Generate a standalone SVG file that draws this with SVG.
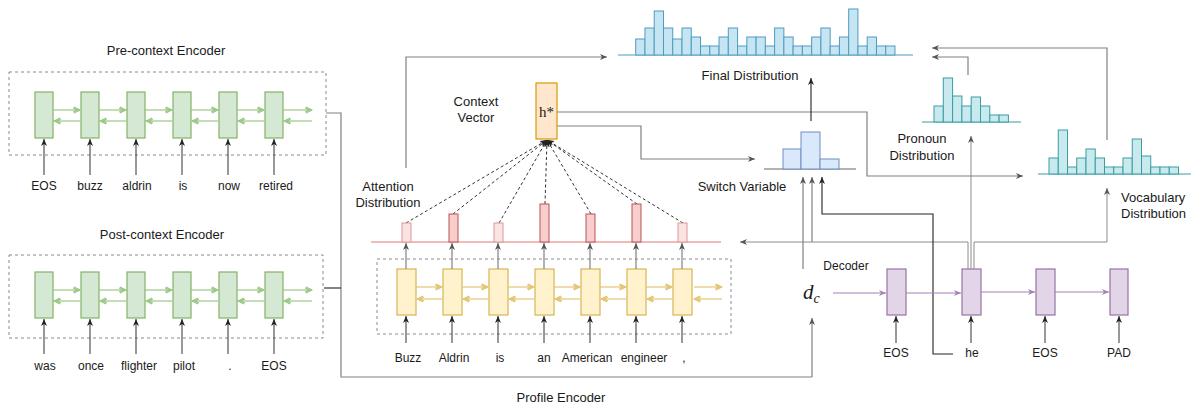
<svg xmlns="http://www.w3.org/2000/svg" width="1195" height="407" viewBox="0 0 1195 407">
<style>
text{font-family:"Liberation Sans",Arial,sans-serif;font-size:12px;fill:#1a1a1a}
.t{font-size:13px}
.dash{fill:none;stroke:#8a8a8a;stroke-width:1;stroke-dasharray:3,3}
.gc{fill:#d5e8d4;stroke:#82b366;stroke-width:1.2}
.yc{fill:#fff2cc;stroke:#d6b656;stroke-width:1.2}
.pc{fill:#e1d5e7;stroke:#9673a6;stroke-width:1.2}
.ga{stroke:#93c47d;stroke-width:1.1;fill:none;marker-end:url(#mg)}
.ya{stroke:#e0c068;stroke-width:1.1;fill:none;marker-end:url(#my)}
.pa{stroke:#a680b8;stroke-width:1.2;fill:none;marker-end:url(#mp)}
.ka{stroke:#333;stroke-width:1;fill:none;marker-end:url(#mk)}
.gr{stroke:#808080;stroke-width:1.2;fill:none}
.gra{stroke:#808080;stroke-width:1.2;fill:none;marker-end:url(#mgr)}
.thin{stroke:#808080;stroke-width:0.9;fill:none;marker-end:url(#mgr)}
.bl{stroke:#222;stroke-width:1.1;fill:none}
.bla{stroke:#222;stroke-width:1.1;fill:none;marker-end:url(#mk)}
.att{stroke:#333;stroke-width:1;stroke-dasharray:3,2.5;fill:none;marker-end:url(#mk)}
.fb{fill:#c6e5f3;stroke:#4f9cc0;stroke-width:1}
.tb{fill:#c8eaee;stroke:#3a9da3;stroke-width:1}
.sb{fill:#dae8fc;stroke:#6c8ebf;stroke-width:1}
.rb{fill:#f8cecc;stroke:#b85450;stroke-width:1}
.rl{fill:#fbe3e2;stroke:#d99a97;stroke-width:1}
</style>
<defs>
<marker id="mk" markerWidth="8" markerHeight="8" refX="7" refY="4" orient="auto" markerUnits="userSpaceOnUse"><path d="M0,1 L7,4 L0,7 L2,4 Z" fill="#222"/></marker>
<marker id="mgr" markerWidth="8" markerHeight="8" refX="7" refY="4" orient="auto" markerUnits="userSpaceOnUse"><path d="M0,1 L7,4 L0,7 L2,4 Z" fill="#555"/></marker>
<marker id="mg" markerWidth="8" markerHeight="8" refX="7" refY="4" orient="auto" markerUnits="userSpaceOnUse"><path d="M1,1 L7,4 L1,7 M0,2 L4,4 L0,6" fill="none" stroke="#93c47d" stroke-width="1.1"/></marker>
<marker id="my" markerWidth="8" markerHeight="8" refX="7" refY="4" orient="auto" markerUnits="userSpaceOnUse"><path d="M1,1 L7,4 L1,7 M0,2 L4,4 L0,6" fill="none" stroke="#e0c068" stroke-width="1.1"/></marker>
<marker id="mp" markerWidth="8" markerHeight="8" refX="7" refY="4" orient="auto" markerUnits="userSpaceOnUse"><path d="M0,1 L7,4 L0,7 L2,4 Z" fill="#a680b8"/></marker>
</defs>

<g id="connectors">
<path class="gr" d="M326,113 H341 V377 H812"/>
<path class="bl" d="M324,288 H341"/>
<path class="gra" d="M812,377 V318"/>
<path class="gra" d="M406,168 V57 H607"/>
<path class="gra" d="M557,112 H867 V176 H1023"/>
<path class="gra" d="M557,126 H641 V159 H755"/>
<path class="bla" d="M811,121 V78"/>
<path class="gra" d="M968,75 V57 H932"/>
<path class="gra" d="M1107,140 V48 H932"/>
<path class="thin" d="M968,269 V242 H740"/>
<path class="thin" d="M974,269 V242 H1107 V188"/>
<path class="thin" d="M971,269 V136"/>
<path class="gra" d="M812,242 V177"/>
<path class="gra" d="M803,269 V177"/>
<path class="bla" d="M953,354 H933 V214 H822 V177"/>
<path class="att" d="M406,223 L547,140"/>
<path class="att" d="M453,214 L547,140"/>
<path class="att" d="M499,223 L547,140"/>
<path class="att" d="M545,204 L547,140"/>
<path class="att" d="M591,214 L547,140"/>
<path class="att" d="M637,204 L547,140"/>
<path class="att" d="M683,223 L547,140"/>
</g>

<g id="pre-context-encoder">
<text class="t" x="166" y="55" text-anchor="middle">Pre-context Encoder</text>
<rect class="dash" x="9" y="72" width="317" height="83"/>
<rect class="gc" x="35" y="92" width="18" height="46"/>
<rect class="gc" x="81" y="92" width="18" height="46"/>
<rect class="gc" x="127" y="92" width="18" height="46"/>
<rect class="gc" x="173" y="92" width="18" height="46"/>
<rect class="gc" x="219" y="92" width="18" height="46"/>
<rect class="gc" x="265" y="92" width="18" height="46"/>
<path class="ga" d="M53,110 H80"/><path class="ga" d="M99,110 H126"/><path class="ga" d="M145,110 H172"/><path class="ga" d="M191,110 H218"/><path class="ga" d="M237,110 H264"/><path class="ga" d="M283,110 H312"/>
<path class="ga" d="M80,121 H54"/><path class="ga" d="M126,121 H100"/><path class="ga" d="M172,121 H146"/><path class="ga" d="M218,121 H192"/><path class="ga" d="M264,121 H238"/><path class="ga" d="M312,121 H284"/>
<path class="ka" d="M44,175 V139"/><path class="ka" d="M90,175 V139"/><path class="ka" d="M136,175 V139"/><path class="ka" d="M182,175 V139"/><path class="ka" d="M228,175 V139"/><path class="ka" d="M274,175 V139"/>
<text x="44" y="190" text-anchor="middle">EOS</text>
<text x="90" y="190" text-anchor="middle">buzz</text>
<text x="137" y="190" text-anchor="middle">aldrin</text>
<text x="183" y="190" text-anchor="middle">is</text>
<text x="229" y="190" text-anchor="middle">now</text>
<text x="276" y="190" text-anchor="middle">retired</text>
</g>

<g id="post-context-encoder">
<text class="t" x="162" y="239" text-anchor="middle">Post-context Encoder</text>
<rect class="dash" x="9" y="255" width="314" height="83"/>
<rect class="gc" x="35" y="272" width="18" height="46"/>
<rect class="gc" x="81" y="272" width="18" height="46"/>
<rect class="gc" x="127" y="272" width="18" height="46"/>
<rect class="gc" x="173" y="272" width="18" height="46"/>
<rect class="gc" x="219" y="272" width="18" height="46"/>
<rect class="gc" x="265" y="272" width="18" height="46"/>
<path class="ga" d="M53,290 H80"/><path class="ga" d="M99,290 H126"/><path class="ga" d="M145,290 H172"/><path class="ga" d="M191,290 H218"/><path class="ga" d="M237,290 H264"/><path class="ga" d="M283,290 H312"/>
<path class="ga" d="M80,301 H54"/><path class="ga" d="M126,301 H100"/><path class="ga" d="M172,301 H146"/><path class="ga" d="M218,301 H192"/><path class="ga" d="M264,301 H238"/><path class="ga" d="M312,301 H284"/>
<path class="ka" d="M44,354 V319"/><path class="ka" d="M90,354 V319"/><path class="ka" d="M136,354 V319"/><path class="ka" d="M182,354 V319"/><path class="ka" d="M228,354 V319"/><path class="ka" d="M274,354 V319"/>
<text x="45" y="370" text-anchor="middle">was</text>
<text x="91" y="370" text-anchor="middle">once</text>
<text x="139" y="370" text-anchor="middle">flighter</text>
<text x="184" y="370" text-anchor="middle">pilot</text>
<text x="230" y="370" text-anchor="middle">.</text>
<text x="274" y="370" text-anchor="middle">EOS</text>
</g>

<g id="profile-encoder">
<rect class="dash" x="377" y="259" width="354" height="75"/>
<rect class="yc" x="397" y="269" width="19" height="46"/>
<rect class="yc" x="443" y="269" width="19" height="46"/>
<rect class="yc" x="489" y="269" width="19" height="46"/>
<rect class="yc" x="535" y="269" width="19" height="46"/>
<rect class="yc" x="581" y="269" width="19" height="46"/>
<rect class="yc" x="627" y="269" width="19" height="46"/>
<rect class="yc" x="673" y="269" width="19" height="46"/>
<path class="ya" d="M416,287 H442"/><path class="ya" d="M462,287 H488"/><path class="ya" d="M508,287 H534"/><path class="ya" d="M554,287 H580"/><path class="ya" d="M600,287 H626"/><path class="ya" d="M646,287 H672"/><path class="ya" d="M694,287 H722"/>
<path class="ya" d="M442,299 H417"/><path class="ya" d="M488,299 H463"/><path class="ya" d="M534,299 H509"/><path class="ya" d="M580,299 H555"/><path class="ya" d="M626,299 H601"/><path class="ya" d="M672,299 H647"/><path class="ya" d="M722,299 H694"/>
<path class="ka" d="M406,343 V316"/><path class="ka" d="M452,343 V316"/><path class="ka" d="M498,343 V316"/><path class="ka" d="M544,343 V316"/><path class="ka" d="M590,343 V316"/><path class="ka" d="M636,343 V316"/><path class="ka" d="M682,343 V316"/>
<path class="gra" d="M406,269 V243"/><path class="gra" d="M452,269 V243"/><path class="gra" d="M498,269 V243"/><path class="gra" d="M544,269 V243"/><path class="gra" d="M590,269 V243"/><path class="gra" d="M636,269 V243"/><path class="gra" d="M682,269 V243"/>
<text x="408" y="362" text-anchor="middle">Buzz</text>
<text x="454" y="362" text-anchor="middle">Aldrin</text>
<text x="500" y="362" text-anchor="middle">is</text>
<text x="544" y="362" text-anchor="middle">an</text>
<text x="587" y="362" text-anchor="middle">American</text>
<text x="644" y="362" text-anchor="middle">engineer</text>
<text x="684" y="362" text-anchor="middle">,</text>
<text class="t" x="561" y="402" text-anchor="middle">Profile Encoder</text>
</g>

<g id="attention-distribution">
<line x1="371" y1="242" x2="721" y2="242" stroke="#e07a78" stroke-width="1.2"/>
<rect class="rl" x="402" y="223" width="9" height="19"/>
<rect class="rb" x="449" y="214" width="9" height="28"/>
<rect class="rl" x="494" y="223" width="9" height="19"/>
<rect class="rb" x="540" y="204" width="9" height="38"/>
<rect class="rb" x="586" y="214" width="9" height="28"/>
<rect class="rb" x="632" y="204" width="9" height="38"/>
<rect class="rl" x="678" y="223" width="9" height="19"/>
<text class="t" x="388" y="191" text-anchor="middle">Attention</text>
<text class="t" x="388" y="207" text-anchor="middle">Distribution</text>
</g>

<g id="context-vector">
<rect x="536" y="83" width="21" height="56" fill="#ffe6cc" stroke="#d79b00" stroke-width="1.2"/>
<text x="546.5" y="117" text-anchor="middle" style="font-family:'Liberation Serif',serif;font-size:15px">h*</text>
<text class="t" x="476" y="106" text-anchor="middle">Context</text>
<text class="t" x="476" y="122" text-anchor="middle">Vector</text>
</g>

<g id="final-distribution">
<line x1="618" y1="55" x2="913" y2="55" stroke="#4f9cc0" stroke-width="1.2"/>
<rect class="fb" x="635.7" y="39" width="9.26" height="16"/>
<rect class="fb" x="644.96" y="28" width="9.26" height="27"/>
<rect class="fb" x="654.22" y="11" width="9.26" height="44"/>
<rect class="fb" x="663.48" y="28" width="9.26" height="27"/>
<rect class="fb" x="672.74" y="39" width="9.26" height="16"/>
<rect class="fb" x="682" y="28" width="9.26" height="27"/>
<rect class="fb" x="691.26" y="37" width="9.26" height="18"/>
<rect class="fb" x="700.52" y="46" width="9.26" height="9"/>
<rect class="fb" x="709.78" y="46" width="9.26" height="9"/>
<rect class="fb" x="719.04" y="37" width="9.26" height="18"/>
<rect class="fb" x="728.3" y="28" width="9.26" height="27"/>
<rect class="fb" x="737.56" y="46" width="9.26" height="9"/>
<rect class="fb" x="746.82" y="37" width="9.26" height="18"/>
<rect class="fb" x="756.08" y="37" width="9.26" height="18"/>
<rect class="fb" x="765.34" y="46" width="9.26" height="9"/>
<rect class="fb" x="774.6" y="28" width="9.26" height="27"/>
<rect class="fb" x="783.86" y="37" width="9.26" height="18"/>
<rect class="fb" x="793.12" y="46" width="9.26" height="9"/>
<rect class="fb" x="802.38" y="46" width="9.26" height="9"/>
<rect class="fb" x="811.64" y="37" width="9.26" height="18"/>
<rect class="fb" x="820.9" y="28" width="9.26" height="27"/>
<rect class="fb" x="830.16" y="46" width="9.26" height="9"/>
<rect class="fb" x="839.42" y="37" width="9.26" height="18"/>
<rect class="fb" x="848.68" y="9" width="9.26" height="46"/>
<rect class="fb" x="857.94" y="46" width="9.26" height="9"/>
<rect class="fb" x="867.2" y="37" width="9.26" height="18"/>
<rect class="fb" x="876.46" y="46" width="9.26" height="9"/>
<rect class="fb" x="885.72" y="46" width="9.26" height="9"/>
<text class="t" x="750" y="80" text-anchor="middle">Final Distribution</text>
</g>

<g id="switch-variable">
<line x1="764" y1="169" x2="856" y2="169" stroke="#666" stroke-width="1"/>
<rect class="sb" x="783" y="149" width="18" height="20"/>
<rect class="sb" x="801" y="132" width="19" height="37"/>
<rect class="sb" x="820" y="159" width="19" height="10"/>
<text class="t" x="742" y="191" text-anchor="middle">Switch Variable</text>
</g>

<g id="pronoun-distribution">
<line x1="922" y1="122" x2="1021" y2="122" stroke="#3a9da3" stroke-width="1.2"/>
<rect class="tb" x="934" y="106" width="9.3" height="16"/>
<rect class="tb" x="943.3" y="78" width="9.3" height="44"/>
<rect class="tb" x="952.6" y="96" width="9.3" height="26"/>
<rect class="tb" x="961.9" y="106" width="9.3" height="16"/>
<rect class="tb" x="971.2" y="97" width="9.3" height="25"/>
<rect class="tb" x="980.5" y="106" width="9.3" height="16"/>
<rect class="tb" x="989.8" y="115" width="9.3" height="7"/>
<rect class="tb" x="999.1" y="115" width="9.3" height="7"/>
<text class="t" x="922" y="143" text-anchor="middle">Pronoun</text>
<text class="t" x="922" y="160" text-anchor="middle">Distribution</text>
</g>

<g id="vocabulary-distribution">
<line x1="1038" y1="174" x2="1191" y2="174" stroke="#3a9da3" stroke-width="1.2"/>
<rect class="tb" x="1049" y="158" width="9.25" height="16"/>
<rect class="tb" x="1058.25" y="130" width="9.25" height="44"/>
<rect class="tb" x="1067.5" y="167" width="9.25" height="7"/>
<rect class="tb" x="1076.75" y="158" width="9.25" height="16"/>
<rect class="tb" x="1086" y="149" width="9.25" height="25"/>
<rect class="tb" x="1095.25" y="158" width="9.25" height="16"/>
<rect class="tb" x="1104.5" y="167" width="9.25" height="7"/>
<rect class="tb" x="1113.75" y="167" width="9.25" height="7"/>
<rect class="tb" x="1123" y="158" width="9.25" height="16"/>
<rect class="tb" x="1132.25" y="139" width="9.25" height="35"/>
<rect class="tb" x="1141.5" y="156" width="9.25" height="18"/>
<rect class="tb" x="1150.75" y="167" width="9.25" height="7"/>
<rect class="tb" x="1160" y="167" width="9.25" height="7"/>
<rect class="tb" x="1169.25" y="167" width="9.25" height="7"/>
<text class="t" x="1121" y="202">Vocabulary</text>
<text class="t" x="1121" y="218">Distribution</text>
</g>

<g id="decoder">
<text x="846" y="270" text-anchor="middle">Decoder</text>
<text x="803" y="299" style="font-family:'Liberation Serif',serif;font-style:italic;font-size:21px">d<tspan dy="4" style="font-size:14px">c</tspan></text>
<rect class="pc" x="887" y="269" width="19" height="46"/>
<rect class="pc" x="962" y="269" width="19" height="46"/>
<rect class="pc" x="1036" y="269" width="19" height="46"/>
<rect class="pc" x="1110" y="269" width="18" height="46"/>
<path class="pa" d="M833,293 H886"/>
<path class="pa" d="M906,293 H961"/>
<path class="pa" d="M981,292 H1035"/>
<path class="pa" d="M1055,292 H1109"/>
<path class="ka" d="M896,343 V316"/><path class="ka" d="M971,343 V316"/><path class="ka" d="M1045,343 V316"/><path class="ka" d="M1119,343 V316"/>
<text x="896" y="357" text-anchor="middle">EOS</text>
<text x="972" y="357" text-anchor="middle">he</text>
<text x="1045" y="357" text-anchor="middle">EOS</text>
<text x="1119" y="357" text-anchor="middle">PAD</text>
</g>
</svg>
